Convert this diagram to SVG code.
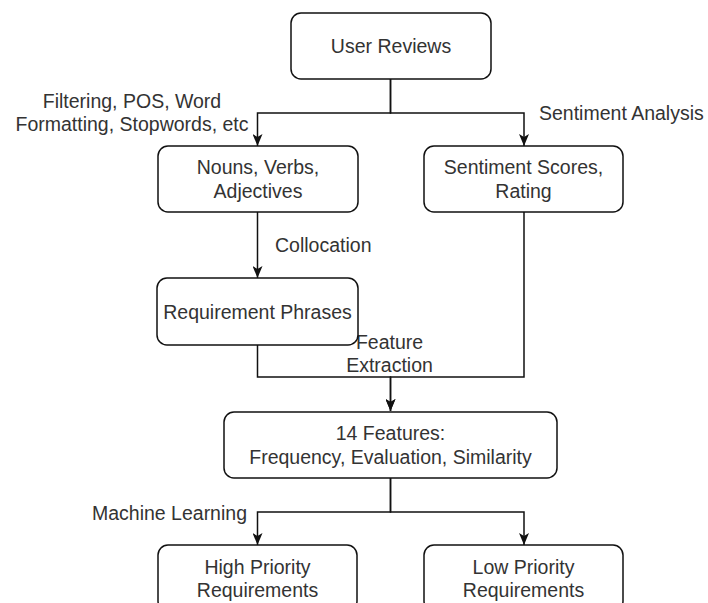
<svg xmlns="http://www.w3.org/2000/svg" width="708" height="603" viewBox="0 0 708 603">
<style>
.box{fill:#fff;stroke:#111;stroke-width:1.5}
.t{font-family:"Liberation Sans",Arial,sans-serif;font-size:19.5px;fill:#333;text-anchor:middle}
.l{font-family:"Liberation Sans",Arial,sans-serif;font-size:19.5px;fill:#333}
.c{fill:none;stroke:#111;stroke-width:1.5}
</style>
<defs>
<marker id="arr" viewBox="0 0 12 10" refX="12" refY="5" markerWidth="12" markerHeight="10" markerUnits="userSpaceOnUse" orient="auto">
<path d="M0,0 L12,5 L0,10 L3,5 Z" fill="#111"/>
</marker>
</defs>
<rect width="708" height="603" fill="#fff"/>
<g id="connectors">
<path class="c" d="M390.5 79 V113 H257.5 V146" marker-end="url(#arr)"/>
<path class="c" d="M390.5 79 V113 H524 V146" marker-end="url(#arr)"/>
<path class="c" d="M257.5 212 V278" marker-end="url(#arr)"/>
<path class="c" d="M257.5 345 V377 H390.5 V411" marker-end="url(#arr)"/>
<path class="c" d="M524 212 V377 H390.5 V411" marker-end="url(#arr)"/>
<path class="c" d="M390.5 478 V512 H257.5 V545" marker-end="url(#arr)"/>
<path class="c" d="M390.5 478 V512 H524 V545" marker-end="url(#arr)"/>
<text class="t" x="132" y="108">Filtering, POS, Word</text>
<text class="t" x="132" y="131">Formatting, Stopwords, etc</text>
<text class="l" x="539" y="120">Sentiment Analysis</text>
<text class="l" x="275" y="252">Collocation</text>
<text class="t" x="389.5" y="349">Feature</text>
<text class="t" x="389.5" y="372">Extraction</text>
<text class="l" x="247" y="520" text-anchor="end">Machine Learning</text>
</g>
<g id="user-reviews">
<rect class="box" x="291" y="13" width="200" height="66" rx="10"/>
<text class="t" x="391" y="53">User Reviews</text>
</g>
<g id="nouns">
<rect class="box" x="158" y="146" width="200" height="66" rx="10"/>
<text class="t" x="258" y="174">Nouns, Verbs,</text>
<text class="t" x="258" y="197.5">Adjectives</text>
</g>
<g id="sentiment">
<rect class="box" x="424" y="146" width="199" height="66" rx="10"/>
<text class="t" x="523.5" y="174">Sentiment Scores,</text>
<text class="t" x="523.5" y="197.5">Rating</text>
</g>
<g id="requirement-phrases">
<rect class="box" x="157" y="278" width="201" height="67" rx="10"/>
<text class="t" x="257.5" y="319">Requirement Phrases</text>
</g>
<g id="features">
<rect class="box" x="224" y="412" width="333" height="66" rx="10"/>
<text class="t" x="390.5" y="440">14 Features:</text>
<text class="t" x="390.5" y="463.5">Frequency, Evaluation, Similarity</text>
</g>
<g id="high-priority">
<rect class="box" x="158" y="545" width="199" height="66" rx="10"/>
<text class="t" x="257.5" y="574">High Priority</text>
<text class="t" x="257.5" y="597">Requirements</text>
</g>
<g id="low-priority">
<rect class="box" x="424" y="545" width="199" height="66" rx="10"/>
<text class="t" x="523.5" y="574">Low Priority</text>
<text class="t" x="523.5" y="597">Requirements</text>
</g>
</svg>
